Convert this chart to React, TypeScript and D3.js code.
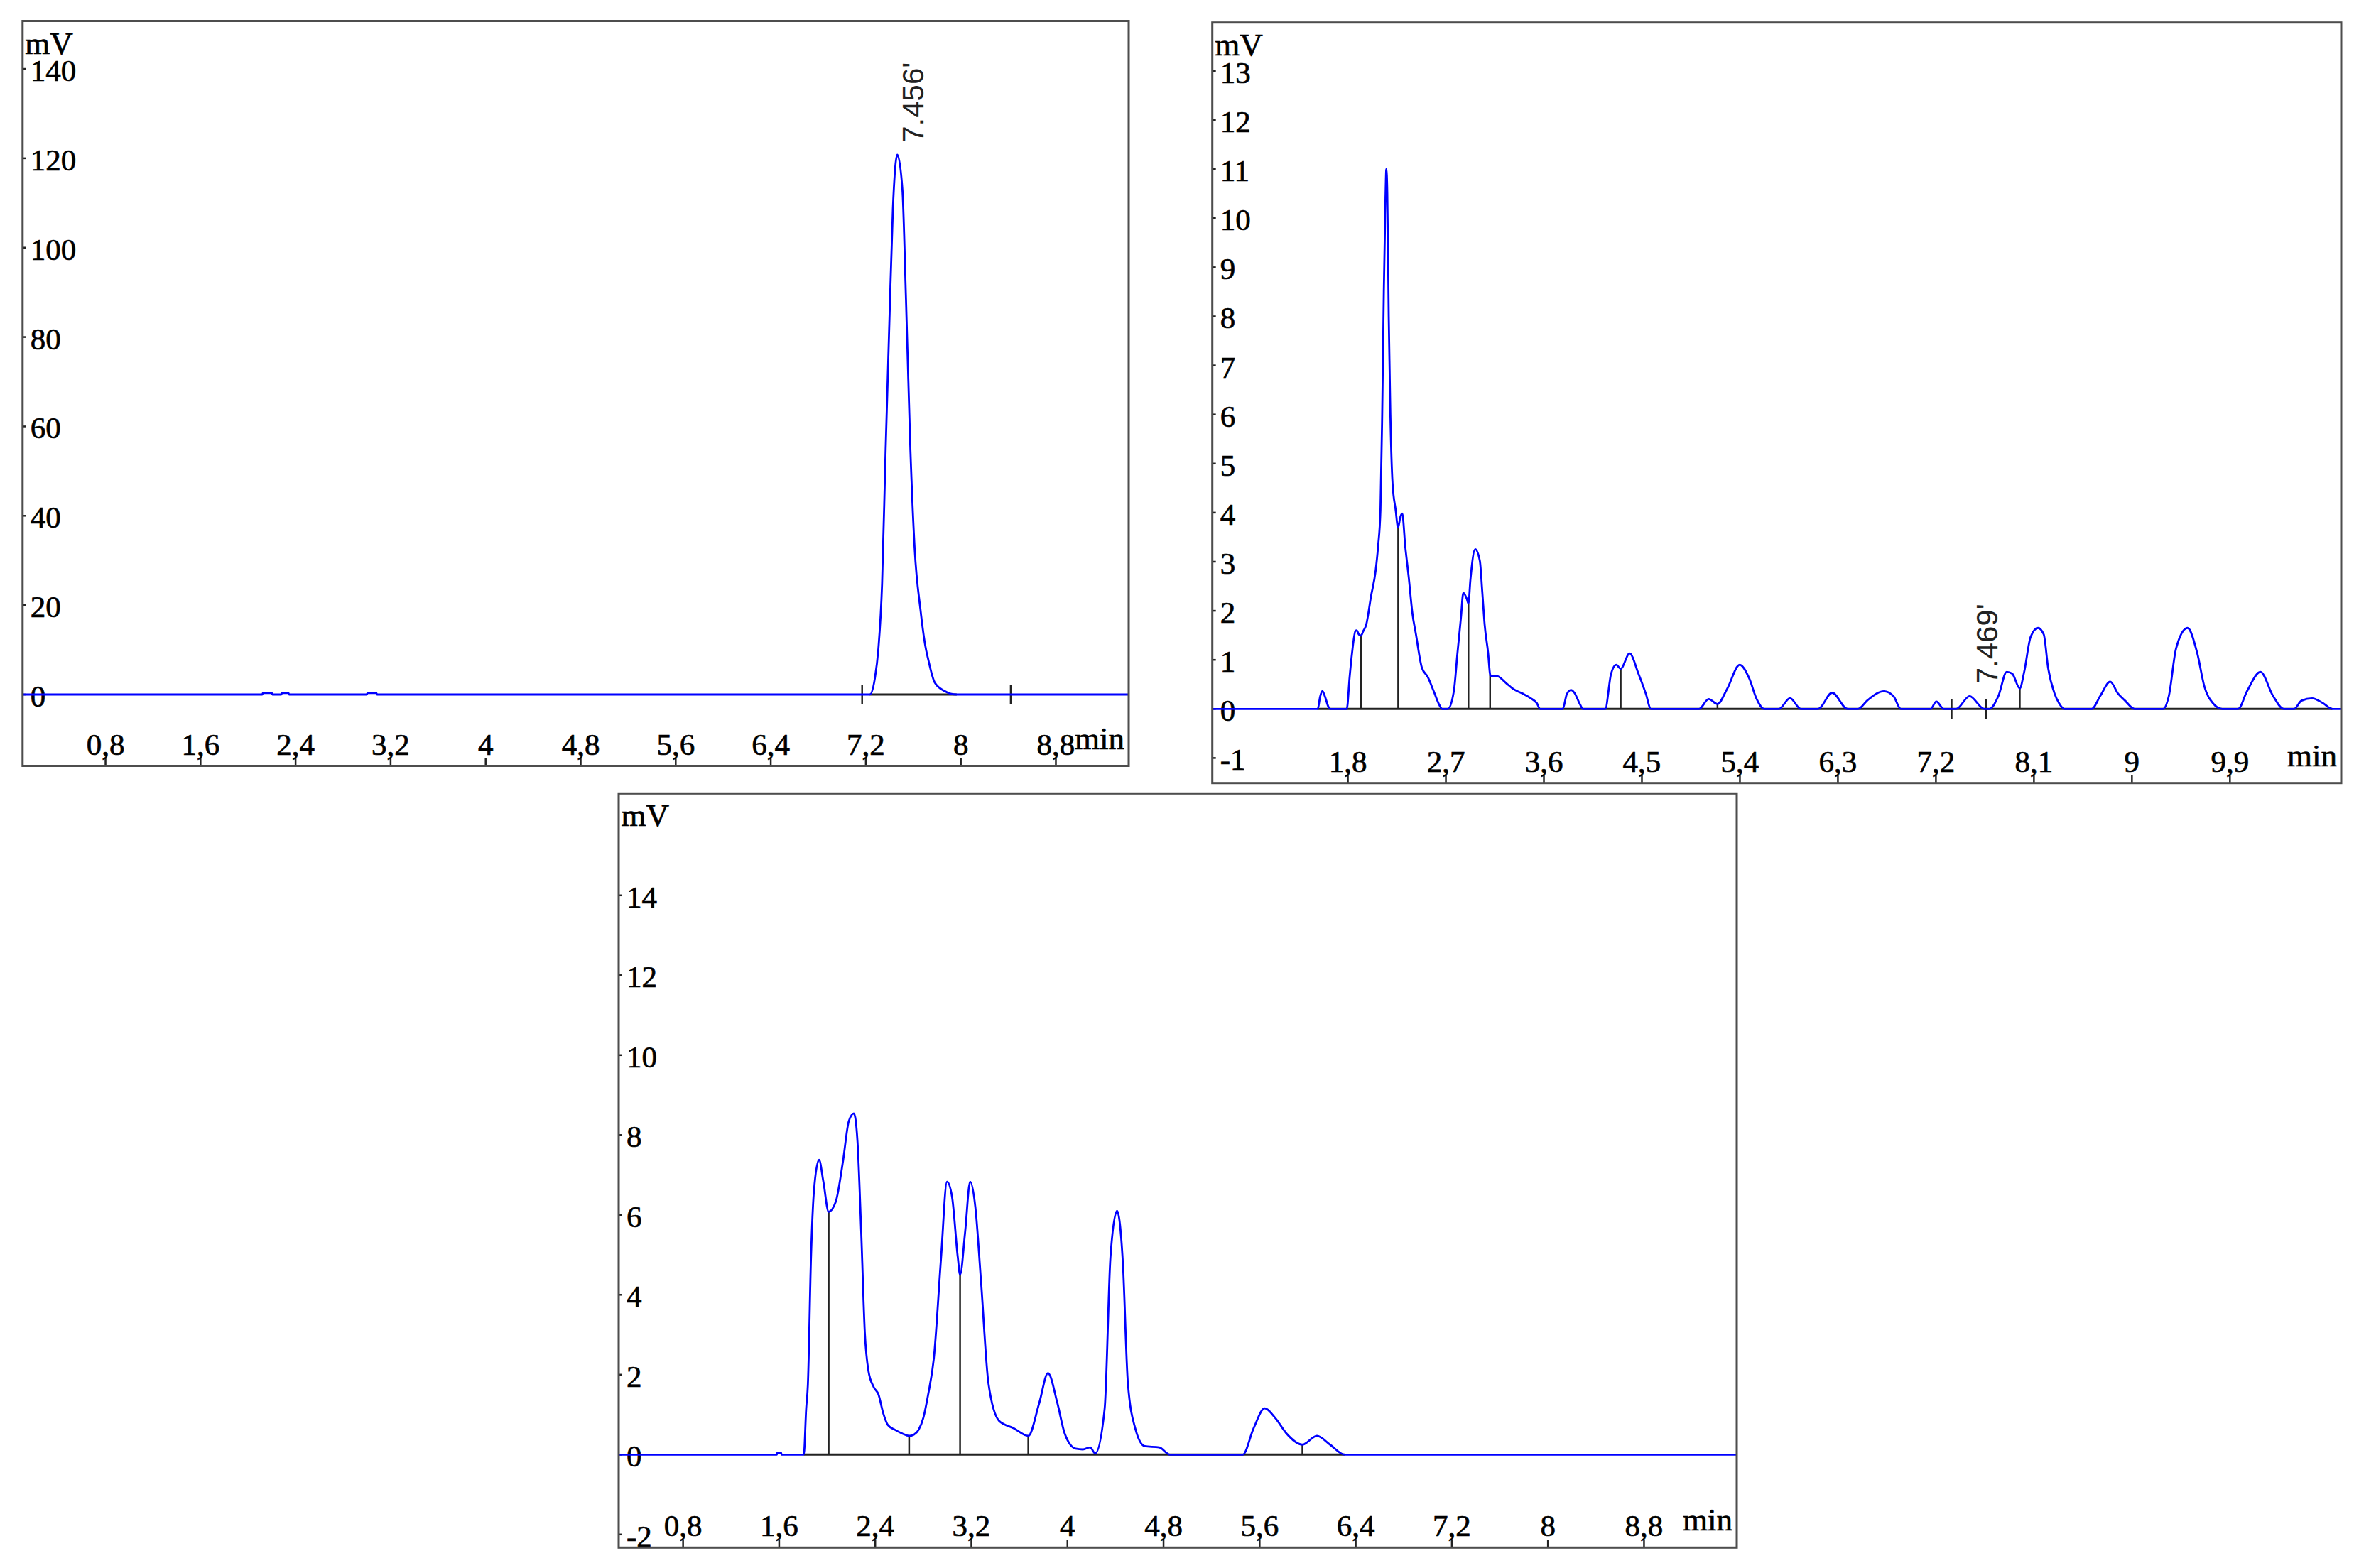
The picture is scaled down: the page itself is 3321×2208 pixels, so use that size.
import React from 'react';
import * as d3 from 'd3';

type Pt = [number, number];

// ---------- DATA ----------
// Panel A (top-left): standard, single peak at 7.456 min
const TRACE_A: Pt[] = [
  [0.102, 0], [2.12, 0], [2.125, 0.35], [2.2, 0.35], [2.205, 0], [2.28, 0], [2.285, 0.35], [2.34, 0.35], [2.345, 0],
  [3.0, 0], [3.005, 0.35], [3.08, 0.35], [3.085, 0],
  [7.233, 0], [7.276, 3.6], [7.306, 10.3], [7.337, 24.8], [7.367, 55], [7.398, 83], [7.428, 108.7], [7.465, 120.8],
  [7.508, 113], [7.538, 88.6], [7.575, 55], [7.611, 32.7], [7.66, 19], [7.7, 11], [7.725, 7.9], [7.78, 2.7],
  [7.862, 0.8], [7.965, 0], [9.413, 0],
];
const CROSS_A: number[] = [7.169, 8.42];
const BASE_A: Pt = [7.233, 7.965];
const LABEL_A = { text: "7.456'", t: 7.456, mV: 120.8 };
const X_TICKS_A = [0.8, 1.6, 2.4, 3.2, 4, 4.8, 5.6, 6.4, 7.2, 8, 8.8];
const Y_TICKS_A = [0, 20, 40, 60, 80, 100, 120, 140];

// Panel B (top-right): sample extract
const TRACE_B: Pt[] = [
  [0.555, 0], [1.523, 0], [1.545, 0.25], [1.566, 0.362], [1.59, 0.25], [1.62, 0.05], [1.642, 0],
  [1.79, 0], [1.816, 0.651], [1.838, 1.134], [1.87, 1.592], [1.881, 1.6], [1.9, 1.52], [1.92, 1.495], [1.94, 1.58],
  [1.968, 1.713], [2.012, 2.291], [2.055, 2.822], [2.077, 3.304], [2.099, 4.052], [2.115, 6.0], [2.13, 8.5],
  [2.145, 10.4], [2.153, 11.0], [2.162, 10.5], [2.175, 8.0], [2.19, 6.0], [2.21, 4.6], [2.24, 4.028], [2.255, 3.739],
  [2.262, 3.7], [2.28, 3.9], [2.299, 3.98], [2.327, 3.304], [2.359, 2.677], [2.392, 1.954], [2.425, 1.52],
  [2.479, 0.844], [2.534, 0.651], [2.588, 0.362], [2.642, 0.072], [2.664, 0],
  [2.718, 0], [2.773, 0.362], [2.806, 1.134], [2.838, 1.857], [2.86, 2.364], [2.892, 2.243], [2.907, 2.147],
  [2.925, 2.629], [2.969, 3.256], [3.012, 3.015], [3.034, 2.388], [3.056, 1.713], [3.088, 1.134], [3.106, 0.7],
  [3.115, 0.66], [3.164, 0.675], [3.251, 0.531], [3.316, 0.41], [3.403, 0.314], [3.48, 0.217], [3.534, 0.121], [3.566, 0],
  [3.773, 0], [3.81, 0.3], [3.849, 0.386], [3.88, 0.33], [3.93, 0.1], [3.958, 0],
  [4.163, 0], [4.217, 0.72], [4.264, 0.9], [4.305, 0.82], [4.387, 1.13], [4.468, 0.72], [4.536, 0.31], [4.583, 0],
  [5.025, 0], [5.113, 0.2], [5.194, 0.1], [5.283, 0.41], [5.398, 0.9], [5.486, 0.62], [5.554, 0.2], [5.622, 0],
  [5.758, 0], [5.86, 0.22], [5.96, 0],
  [6.118, 0], [6.247, 0.33], [6.389, 0],
  [6.484, 0], [6.573, 0.18], [6.722, 0.36], [6.81, 0.26], [6.878, 0],
  [7.15, 0], [7.204, 0.15], [7.272, 0],
  [7.387, 0], [7.509, 0.26], [7.645, 0],
  [7.69, 0], [7.774, 0.265], [7.85, 0.756], [7.9, 0.72], [7.97, 0.42], [8.01, 0.75], [8.07, 1.47], [8.137, 1.65],
  [8.19, 1.52], [8.23, 0.84], [8.29, 0.31], [8.33, 0.12], [8.38, 0],
  [8.63, 0], [8.709, 0.265], [8.8, 0.555], [8.872, 0.314], [8.937, 0.169], [9.024, 0],
  [9.285, 0], [9.339, 0.265], [9.405, 1.23], [9.51, 1.65], [9.6, 1.134], [9.665, 0.458], [9.742, 0.121], [9.829, 0],
  [9.975, 0], [10.057, 0.362], [10.18, 0.756], [10.296, 0.265], [10.394, 0],
  [10.49, 0], [10.557, 0.169], [10.655, 0.217], [10.753, 0.121], [10.84, 0], [10.922, 0],
];
const DROPS_B: Pt[] = [
  [1.92, 1.495], [2.262, 3.7], [2.907, 2.147], [3.106, 0.7], [4.305, 0.82], [5.194, 0.1], [7.97, 0.42],
];
const CROSS_B: number[] = [7.344, 7.66];
const BASE_B: Pt = [1.52, 10.84];
const LABEL_B = { text: "7.469'", t: 7.469, mV: 0 };
const X_TICKS_B = [1.8, 2.7, 3.6, 4.5, 5.4, 6.3, 7.2, 8.1, 9, 9.9];
const Y_TICKS_B = [-1, 0, 1, 2, 3, 4, 5, 6, 7, 8, 9, 10, 11, 12, 13];

// Panel C (bottom): second sample
const TRACE_C: Pt[] = [
  [0.264, 0], [1.58, 0], [1.585, 0.05], [1.615, 0.05], [1.62, 0],
  [1.805, 0], [1.825, 1.16], [1.839, 1.75], [1.865, 4.94], [1.889, 6.58], [1.932, 7.38], [1.968, 6.83], [2.012, 6.08],
  [2.071, 6.33], [2.131, 7.34], [2.18, 8.35], [2.222, 8.54], [2.252, 7.84], [2.283, 5.57], [2.313, 3.05], [2.343, 2.1],
  [2.387, 1.69], [2.426, 1.51], [2.466, 1.04], [2.505, 0.74], [2.564, 0.62], [2.623, 0.53], [2.682, 0.47],
  [2.721, 0.5], [2.761, 0.62], [2.8, 0.92], [2.84, 1.5], [2.888, 2.42], [2.948, 4.94], [2.997, 6.83], [3.039, 6.46],
  [3.087, 4.94], [3.106, 4.5], [3.148, 5.57], [3.19, 6.83], [3.233, 6.2], [3.281, 4.31], [3.342, 1.79], [3.432, 0.84],
  [3.553, 0.66], [3.674, 0.47], [3.765, 1.29], [3.838, 2.04], [3.916, 1.29], [3.977, 0.53], [4.068, 0.15],
  [4.128, 0.13], [4.189, 0.18], [4.231, 0.03], [4.31, 1.16], [4.358, 4.94], [4.413, 6.1], [4.461, 4.82],
  [4.503, 1.79], [4.564, 0.66], [4.643, 0.21], [4.764, 0.18], [4.854, 0],
  [5.46, 0], [5.55, 0.66], [5.641, 1.16], [5.732, 0.91], [5.823, 0.53], [5.956, 0.25], [6.077, 0.47], [6.186, 0.25],
  [6.307, 0], [9.572, 0],
];
const DROPS_C: Pt[] = [
  [2.012, 6.08], [2.682, 0.47], [3.106, 4.5], [3.674, 0.47], [4.231, 0.03], [5.956, 0.25],
];
const BASE_C: Pt = [1.805, 6.307];
const X_TICKS_C = [0.8, 1.6, 2.4, 3.2, 4, 4.8, 5.6, 6.4, 7.2, 8, 8.8];
const Y_TICKS_C = [-2, 0, 2, 4, 6, 8, 10, 12, 14];

// ---------- LAYOUT / STYLE ----------
const SERIF = "'Liberation Serif', 'Times New Roman', serif";
const SANS = "'Liberation Sans', Arial, sans-serif";
const BORDER = '#4d4d4d';
const INK = '#222';
const BLUE = '#0000ff';
const TICK_FS = 43;
const UNIT_FS = 45;
const TXT_STROKE = { stroke: '#000', strokeWidth: 0.7 };

const fmt = (v: number) => String(v).replace('.', ',');

type PanelProps = {
  id: string;
  box: [number, number, number, number];
  xDom: [number, number];
  yDom: [number, number];
  trace: Pt[];
  xTicks: number[];
  yTicks: number[];
  drops?: Pt[];
  crosses?: number[];
  base: Pt;
  label?: { text: string; t: number; mV: number };
  labelDx?: number;
  labelDy?: number;
};

function Panel(p: PanelProps) {
  const [l, t, r, b] = p.box;
  const xs = d3.scaleLinear().domain(p.xDom).range([l, r]);
  const ys = d3.scaleLinear().domain(p.yDom).range([b, t]);
  const line = d3
    .line<Pt>()
    .x((d) => xs(d[0]))
    .y((d) => ys(d[1]))
    .curve(d3.curveMonotoneX);
  const y0 = ys(0);
  return (
    <g>
      <defs>
        <clipPath id={`clip-${p.id}`}>
          <rect x={l} y={t} width={r - l} height={b - t} />
        </clipPath>
      </defs>
      {/* y ticks */}
      {p.yTicks.map((v) => (
        <g key={`y${v}`}>
          <line x1={l} x2={l + 5} y1={ys(v)} y2={ys(v)} stroke={INK} strokeWidth={2.5} />
          <text x={l + 11} y={ys(v) + 17} fontFamily={SERIF} fontSize={TICK_FS} fill="#000" {...TXT_STROKE}>
            {String(v)}
          </text>
        </g>
      ))}
      {/* x ticks */}
      {p.xTicks.map((v) => (
        <g key={`x${v}`}>
          <line x1={xs(v)} x2={xs(v)} y1={b} y2={b - 11} stroke={INK} strokeWidth={2.5} />
          <text x={xs(v)} y={b - 16} textAnchor="middle" fontFamily={SERIF} fontSize={TICK_FS} fill="#000" {...TXT_STROKE}>
            {fmt(v)}
          </text>
        </g>
      ))}
      <text x={l + 3.5} y={t + 46} fontFamily={SERIF} fontSize={UNIT_FS} fill="#000" {...TXT_STROKE}>
        mV
      </text>
      <text x={r - 6} y={b - 24} textAnchor="end" fontFamily={SERIF} fontSize={UNIT_FS} fill="#000" {...TXT_STROKE}>
        min
      </text>
      <g clipPath={`url(#clip-${p.id})`}>
        {/* integration baseline */}
        <line x1={xs(p.base[0])} x2={xs(p.base[1])} y1={y0} y2={y0} stroke={INK} strokeWidth={3} />
        {(p.drops || []).map((d, i) => (
          <line key={`d${i}`} x1={xs(d[0])} x2={xs(d[0])} y1={y0} y2={ys(d[1])} stroke={INK} strokeWidth={2.5} />
        ))}
        {(p.crosses || []).map((c, i) => (
          <line key={`c${i}`} x1={xs(c)} x2={xs(c)} y1={y0 - 14} y2={y0 + 14} stroke={INK} strokeWidth={2.5} />
        ))}
        <path d={line(p.trace) || ''} fill="none" stroke={BLUE} strokeWidth={2.8} strokeLinejoin="round" />
      </g>
      {p.label && (
        <text
          transform={`translate(${xs(p.label.t) + (p.labelDx || 0)},${ys(p.label.mV) - (p.labelDy || 0)}) rotate(-90)`}
          fontFamily={SANS}
          fontSize={42}
          fill={INK}
        >
          {p.label.text}
        </text>
      )}
      <rect x={l} y={t} width={r - l} height={b - t} fill="none" stroke={BORDER} strokeWidth={3} />
    </g>
  );
}

export default function App() {
  return (
    <svg
      width={3321}
      height={2208}
      viewBox="0 0 3321 2208"
      style={{ position: 'absolute', left: 0, top: 0, background: '#fff' }}
    >
      <rect x={0} y={0} width={3321} height={2208} fill="#fff" />
      <Panel
        id="a"
        box={[31.8, 29.5, 1589, 1078.5]}
        xDom={[0.102, 9.413]}
        yDom={[-15.97, 150.73]}
        trace={TRACE_A}
        xTicks={X_TICKS_A}
        yTicks={Y_TICKS_A}
        crosses={CROSS_A}
        base={BASE_A}
        label={LABEL_A}
        labelDx={38}
        labelDy={17}
      />
      <Panel
        id="b"
        box={[1706.7, 31.7, 3296, 1102.7]}
        xDom={[0.555, 10.922]}
        yDom={[-1.511, 13.988]}
        trace={TRACE_B}
        xTicks={X_TICKS_B}
        yTicks={Y_TICKS_B}
        drops={DROPS_B}
        crosses={CROSS_B}
        base={BASE_B}
        label={LABEL_B}
        labelDx={45}
        labelDy={35}
      />
      <Panel
        id="c"
        box={[871, 1117.3, 2445, 2179.3]}
        xDom={[0.264, 9.572]}
        yDom={[-2.329, 16.551]}
        trace={TRACE_C}
        xTicks={X_TICKS_C}
        yTicks={Y_TICKS_C}
        drops={DROPS_C}
        base={BASE_C}
      />
    </svg>
  );
}
